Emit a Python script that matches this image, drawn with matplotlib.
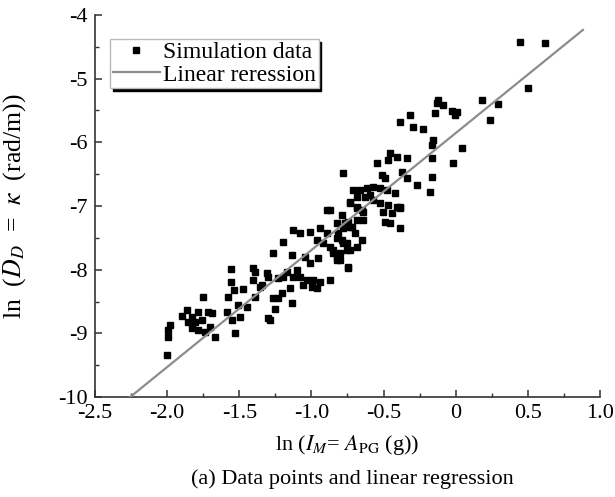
import matplotlib
matplotlib.use("Agg")
import matplotlib.pyplot as plt
from matplotlib.ticker import MultipleLocator

plt.rcParams["font.family"] = ["Liberation Serif", "DejaVu Serif"]
plt.rcParams["mathtext.fontset"] = "stix"

# simulation points, ln(IM) vs ln(DD)
sim_x = [
    -1.264, -1.558, -1.405, -1.391, -1.310, -1.232, -1.197, -1.558, -1.345, -1.535,
    -1.472, -1.750, -1.576, -1.391, -1.264, -1.230, -1.507, -1.449, -1.253, -1.865,
    -1.784, -1.715, -1.691, -1.899, -1.830, -1.587, -1.495, -1.553, -1.287, -1.853,
    -1.807, -1.761, -1.980, -1.992, -1.830, -1.784, -1.738, -1.703, -1.530, -1.992,
    -1.668, -2.003,
    -0.894, -0.790, -0.733, -0.686, -0.652, -0.767, -0.733, -0.686, -0.814, -0.790,
    -0.756, -1.126, -1.079, -1.010, -0.941, -0.894, -1.195, -0.964, -0.918, -0.871,
    -0.849, -0.825, -0.802, -0.733, -0.686, -0.652, -1.137, -1.045, -1.010, -0.953,
    -0.745, -1.299, -1.172, -1.102, -1.079, -1.033, -0.987, -0.941, -0.871, -1.126,
    -1.056, -0.998, -0.964, -1.403, -1.357, -1.149, -1.206, -1.137, -1.299,
    -0.456, -0.409, -0.467, -0.340, -0.167, -0.548, -0.779, -0.513, -0.490, -0.375,
    -0.340, -0.167, -0.271, -0.178, -0.710, -0.664, -0.617, -0.571, -0.525, -0.479,
    -0.421, -0.686, -0.629, -0.594, -0.733, -0.571, -0.525, -0.467, -0.409, -0.871,
    -0.686, -0.641, -0.502, -0.444, -0.386, -0.745, -0.641, -0.490, -0.456, -0.386,
    -0.825, -0.779, -0.721, -0.698, -0.825, -0.779, -0.849, -0.802, -0.756, -0.825,
    -0.745,
    -0.121, -0.086, -0.132, 0.180, 0.295, -0.028, 0.007, -0.005, -0.144, -0.317,
    0.237, -0.386, -0.294, -0.225, -0.156, -0.167, 0.041, -0.017, -0.386, 0.445,
    0.619, 0.503,
]
sim_y = [
    -7.743, -7.994, -7.974, -8.036, -8.047, -8.131, -8.115, -8.189, -8.241, -8.319,
    -8.308, -8.424, -8.424, -8.424, -8.450, -8.450, -8.555, -8.582, -8.622, -8.633,
    -8.660, -8.660, -8.676, -8.728, -8.739, -8.660, -8.739, -8.790, -8.790, -8.817,
    -8.817, -8.790, -8.869, -8.947, -8.921, -8.947, -8.974, -8.905, -8.990, -9.053,
    -9.062, -9.340,
    -7.063, -7.141, -6.957, -7.011, -7.063, -7.272, -7.325, -7.220, -7.429, -7.534,
    -7.586, -7.377, -7.429, -7.404, -7.350, -7.429, -7.561, -7.534, -7.586, -7.639,
    -7.743, -7.796, -7.848, -7.691, -7.639, -7.534, -7.769, -7.796, -7.900, -7.821,
    -7.978, -8.110, -8.032, -8.005, -8.110, -8.162, -8.162, -8.189, -8.162, -8.110,
    -8.241, -8.267, -8.293, -8.162, -8.267, -8.293, -8.371, -8.528, -8.764,
    -6.172, -6.226, -6.277, -6.251, -6.251, -6.329, -6.486, -6.513, -6.565, -6.461,
    -6.565, -6.540, -6.670, -6.775, -6.749, -6.749, -6.722, -6.697, -6.722, -6.749,
    -6.800, -6.854, -6.854, -6.827, -6.932, -6.906, -6.957, -6.984, -7.011, -7.063,
    -7.036, -7.089, -7.089, -7.115, -7.036, -7.246, -7.220, -7.246, -7.272, -7.350,
    -7.272, -7.350, -7.325, -7.429, -7.507, -7.586, -7.691, -7.743, -7.691, -7.848,
    -7.953,
    -5.335, -5.414, -5.387, -5.335, -5.398, -5.503, -5.519, -5.571, -5.544, -5.571,
    -5.649, -5.676, -5.754, -5.795, -5.963, -6.042, -6.094, -6.320, -7.011, -4.419,
    -4.435, -5.142,
]

# regression line end points
fit_x = [-2.257, 0.882]
fit_y = [-10.0, -4.236]

x_ticks = [-2.5, -2.0, -1.5, -1.0, -0.5, 0.0, 0.5, 1.0]
x_labels = ["-2.5", "-2.0", "-1.5", "-1.0", "-0.5", "0", "0.5", "1.0"]
y_ticks = [-10, -9, -8, -7, -6, -5, -4]
y_labels = ["-10", "-9", "-8", "-7", "-6", "-5", "-4"]

FS = 16

fig = plt.figure(figsize=(6.15, 4.97), dpi=100)
ax = fig.add_axes([0.1545, 0.201, 0.821, 0.769])

ax.plot(sim_x, sim_y, ls="none", marker="s", ms=4.8, color="black",
        label="Simulation data", zorder=3)
ax.plot(fit_x, fit_y, color="#8c8c8c", lw=1.6, label="Linear reression", zorder=4)

ax.set_xlim(-2.5, 1.0)
ax.set_ylim(-10, -4)
ax.set_xticks(x_ticks)
ax.set_xticklabels(x_labels)
ax.set_yticks(y_ticks)
ax.set_yticklabels(y_labels)
ax.xaxis.set_minor_locator(MultipleLocator(0.25))
ax.yaxis.set_minor_locator(MultipleLocator(0.5))

for side in ["top", "right"]:
    ax.spines[side].set_visible(False)
for side in ["left", "bottom"]:
    ax.spines[side].set_color("#333333")
    ax.spines[side].set_linewidth(1.2)

ax.tick_params(which="major", direction="in", length=5, width=1.1,
               color="#333333", labelsize=FS, pad=5)
ax.tick_params(which="minor", direction="in", length=3, width=1.0, color="#333333")

ax.set_xlabel(r"ln ($I_M$= $A_{\mathrm{PG}}$ (g))", fontsize=FS, labelpad=7)
ax.set_ylabel(r"ln  ($D_D$  =  $\kappa$  (rad/m))", fontsize=18.5, labelpad=22)

fig.text(0.573, 0.036, "(a) Data points and linear regression", ha="center",
         va="center", fontsize=FS)

# figure-level legend placed in axes coordinates, with a black drop shadow
handles, labels = ax.get_legend_handles_labels()
fig.legend(handles, labels, loc="upper left", bbox_to_anchor=(0.03, 0.937),
           bbox_transform=ax.transAxes, borderaxespad=0,
           fontsize=17, fancybox=False, framealpha=1, edgecolor="#bbbbbb",
           handlelength=2.0, handletextpad=0.15, borderpad=0.1,
           labelspacing=0.05, numpoints=1, markerscale=0.8,
           shadow={"color": "black", "alpha": 1})

fig.canvas.draw()
fig.savefig("out.png", dpi=100)
